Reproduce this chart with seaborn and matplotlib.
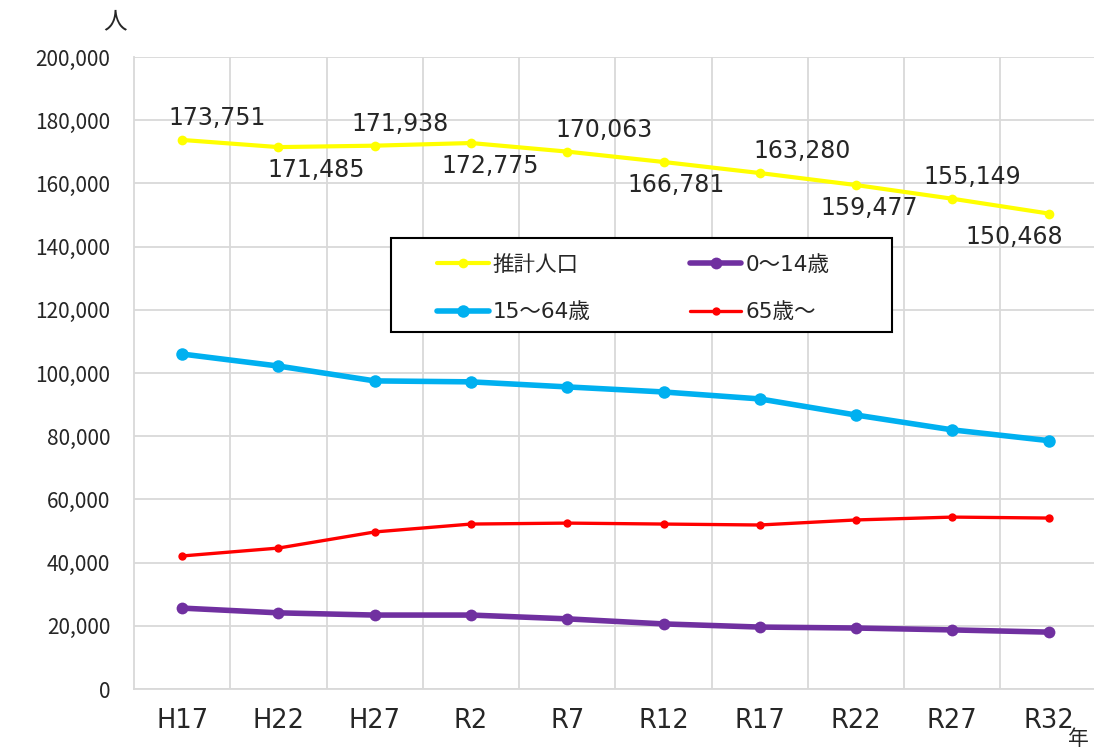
import numpy as np
import pandas as pd
import matplotlib
matplotlib.use('Agg')
import matplotlib.pyplot as plt
from matplotlib.patches import Rectangle
import seaborn as sns

# Data
years = ['H17', 'H22', 'H27', 'R2', 'R7', 'R12', 'R17', 'R22', 'R27', 'R32']
total = [173751, 171485, 171938, 172775, 170063, 166781, 163280, 159477, 155149, 150468]
age_0_14 = [25600, 24100, 23400, 23400, 22200, 20600, 19600, 19300, 18700, 18000]
age_15_64 = [106000, 102200, 97500, 97200, 95600, 94000, 91800, 86700, 82000, 78600]
age_65 = [42100, 44600, 49700, 52200, 52500, 52200, 51900, 53500, 54400, 54100]

sns.set_style('white')
plt.rcParams['font.family'] = ['DejaVu Sans', 'Noto Sans CJK JP']
cjk = ['Noto Sans CJK JP', 'DejaVu Sans']
txt = '#262626'

fig = plt.figure(figsize=(10.94, 7.49), dpi=100)
ax = fig.add_axes([0.1225, 0.0801, 0.880, 0.8438])

x = np.arange(len(years))
series = [
    ('推計人口', total, '#FFFF00', 3.0, 7),
    ('0～14歳', age_0_14, '#7030A0', 4.0, 8.5),
    ('15～64歳', age_15_64, '#00B0F0', 4.0, 9),
    ('65歳～', age_65, '#FF0000', 2.4, 6),
]
for name, vals, color, lw, ms in series:
    df = pd.DataFrame({'x': x, 'y': vals})
    sns.lineplot(data=df, x='x', y='y', ax=ax, color=color, linewidth=lw,
                 marker='o', markersize=ms, markeredgewidth=0, label=name, zorder=3)

# data labels for total, alternating above / below
label_dx = [35, 38, 25, 19, 37, 13, 42, 13, 20, -34]
for i, v in enumerate(total):
    dy = 22 if i % 2 == 0 else -23
    ax.annotate(f'{v:,}', (x[i], v), xytext=(label_dx[i], dy), textcoords='offset pixels',
                ha='center', va='center', fontsize=17, color=txt, zorder=4)

ax.set_xlim(-0.5, 9.5)
ax.set_ylim(0, 200000)
ax.set_yticks(np.arange(0, 200001, 20000))
ax.set_yticklabels([f'{v:,}' for v in range(0, 200001, 20000)], family=cjk, fontsize=15)
ax.set_xticks(x)
ax.set_xticklabels(years, fontsize=18.5)
ax.set_xticks(np.arange(0.5, 9.5, 1), minor=True)
ax.tick_params(axis='both', which='major', colors=txt)
ax.tick_params(axis='x', which='major', length=4, color='#D9D9D9', pad=10)
ax.tick_params(axis='x', which='minor', length=0)
ax.tick_params(axis='y', length=0, pad=17)
ax.set_xlabel('')
ax.set_ylabel('')

ax.grid(axis='y', which='major', color='#D9D9D9', linewidth=1.3)
ax.grid(axis='x', which='minor', color='#D9D9D9', linewidth=1.3)
ax.grid(axis='x', which='major', visible=False)
for s in ['top', 'right']:
    ax.spines[s].set_visible(False)
for s in ['left', 'bottom']:
    ax.spines[s].set_color('#D9D9D9')
    ax.spines[s].set_linewidth(1.3)

# legend box drawn separately, entries placed inside it
ax.add_patch(Rectangle((0.267, 0.565), 0.520, 0.149, transform=ax.transAxes,
                       facecolor='white', edgecolor='black', linewidth=1.5, zorder=5))
h, l = ax.get_legend_handles_labels()
order = [0, 2, 1, 3]
leg = ax.legend([h[i] for i in order], [l[i] for i in order], ncol=2,
                loc='center left', bbox_to_anchor=(0.3146, 0.6337, 0.408, 0.0),
                mode='expand', borderaxespad=0, borderpad=0, frameon=False,
                prop={'size': 15.5}, handlelength=2.4, handletextpad=0.2,
                labelspacing=1.3)
leg.set_zorder(6)

fig.text(115 / 1094, 1 - 22 / 749, '人', family=cjk, fontsize=17, ha='center', va='center', color=txt)
fig.text(1078 / 1094, 1 - 739 / 749, '年', family=cjk, fontsize=15, ha='center', va='center', color=txt)

fig.savefig('out.png', dpi=100)
